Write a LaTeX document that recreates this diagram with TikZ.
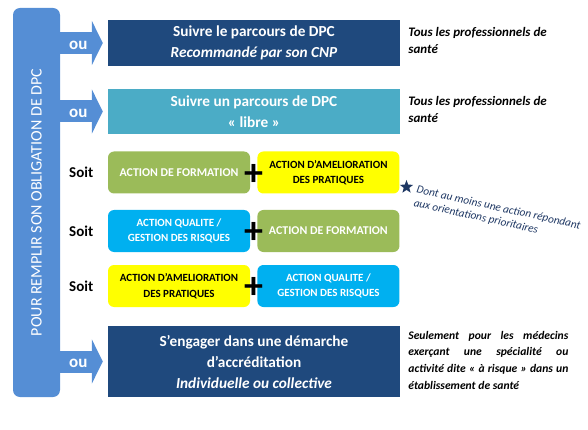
\documentclass[tikz,border=0pt]{standalone}
\usepackage{fontspec}
\setmainfont{Carlito}
\usetikzlibrary{arrows.meta, positioning, shapes.geometric, calc}
\definecolor{barblue}{HTML}{558ED5}
\definecolor{navybox}{HTML}{1F497D}
\definecolor{tealbox}{HTML}{4BACC6}
\definecolor{greenbox}{HTML}{9BBB59}
\definecolor{cyanbox}{HTML}{00B0F0}
\definecolor{yellowbox}{HTML}{FFFF00}
\definecolor{notenavy}{HTML}{1F3864}
\tikzset{
  bar/.style={
    rectangle,
    rounded corners=7pt,
    fill=barblue,
    text=white,
    minimum width=47pt,
    minimum height=389pt,
    inner sep=0pt,
    font=\fontsize{16}{16}\selectfont
  },
  pathbox/.style={
    rectangle,
    fill=#1,
    text=white,
    align=center,
    minimum width=292pt,
    inner sep=0pt,
    font=\fontsize{15.3}{21}\selectfont\bfseries
  },
  actionbox/.style={
    rectangle,
    rounded corners=6pt,
    fill=#1,
    align=center,
    minimum width=142pt,
    minimum height=42pt,
    inner sep=0pt,
    font=\fontsize{11}{15.5}\selectfont\bfseries
  },
  singleline/.style={font=\fontsize{11.9}{15.5}\selectfont\bfseries},
  fatarrow/.style={
    draw=barblue,
    line width=22pt,
    -{Triangle[length=11pt, width=44pt]},
    shorten >=5pt
  },
  oulabel/.style={text=white, yshift=-2pt, font=\fontsize{17}{17}\selectfont\bfseries},
  soitlabel/.style={font=\fontsize{15}{15}\selectfont\bfseries},
  plussign/.style={inner sep=0pt, yshift=-2pt, font=\fontsize{38}{38}\selectfont\bfseries},
  sidenote/.style={
    anchor=north west,
    align=left,
    inner sep=0pt,
    font=\fontsize{13}{17}\selectfont\bfseries\itshape
  },
  starmark/.style={
    star,
    star points=5,
    star point ratio=2.4,
    fill=notenavy,
    inner sep=0pt,
    minimum size=14pt
  },
  starnote/.style={
    anchor=north west,
    rotate=-12.5,
    align=left,
    inner sep=0pt,
    text=notenavy,
    font=\fontsize{11.3}{13.5}\selectfont\itshape
  }
}
\begin{document}
\begin{tikzpicture}[x=1pt, y=-1pt]
    \useasboundingbox (0,0) rectangle (588,430);

    \node[bar] (bar) at (36.5,202.5) {\rotatebox{90}{POUR REMPLIR SON OBLIGATION DE DPC}};

    % les trois parcours
    \node[pathbox=navybox, minimum height=46pt] (parcourscnp) at (254,43)
        {Suivre le parcours de DPC\\\textit{Recommandé par son CNP}};
    \node[pathbox=tealbox, minimum height=45pt] (parcourslibre) at (254,111.5)
        {Suivre un parcours de DPC\\«~libre~»};
    \node[pathbox=navybox, minimum height=71pt] (accreditation) at (254,361.5)
        {S’engager dans une démarche\\d’accréditation\\\textit{Individuelle ou collective}};

    % combinaisons d'actions
    \node[actionbox=greenbox, singleline, text=white] (formationA) at (179,172.5) {ACTION DE FORMATION};
    \node[actionbox=yellowbox, right=7pt of formationA] (ameliorationA) {ACTION D’AMELIORATION\\DES PRATIQUES};
    \node[actionbox=cyanbox, text=white] (qualiteB) at (179,231) {ACTION QUALITE /\\GESTION DES RISQUES};
    \node[actionbox=greenbox, singleline, text=white, right=7pt of qualiteB] (formationB) {ACTION DE FORMATION};
    \node[actionbox=yellowbox] (ameliorationC) at (179,286) {ACTION D’AMELIORATION\\DES PRATIQUES};
    \node[actionbox=cyanbox, text=white, right=7pt of ameliorationC] (qualiteC) {ACTION QUALITE /\\GESTION DES RISQUES};

    \node[soitlabel, left=11pt of formationA] (soitA) {Soit};
    \node[soitlabel, left=11pt of qualiteB] (soitB) {Soit};
    \node[soitlabel, left=11pt of ameliorationC] (soitC) {Soit};

    \node[plussign] (plusA) at ($(formationA.east)!.5!(ameliorationA.west)$) {+};
    \node[plussign] (plusB) at ($(qualiteB.east)!.5!(formationB.west)$) {+};
    \node[plussign] (plusC) at ($(ameliorationC.east)!.5!(qualiteC.west)$) {+};

    % notes
    \node[sidenote] (notecnp) at ([xshift=8pt, yshift=-7pt]parcourscnp.north east)
        {Tous les professionnels de\\santé};
    \node[sidenote] (notelibre) at ([xshift=8pt, yshift=-7pt]parcourslibre.north east)
        {Tous les professionnels de\\santé};
    \node[sidenote, text width=160pt, align=justify, font=\fontsize{11.6}{16.7}\selectfont\bfseries\itshape] (noteaccred)
        at ([xshift=8pt, yshift=-5pt]accreditation.north east)
        {Seulement pour les médecins\linebreak exerçant une spécialité ou\linebreak activité dite «~à risque~» dans un\linebreak établissement de santé};
    \node[starmark] (star) at (406.5,187) {};
    \node[starnote] (prioritynote) at ([xshift=7pt, yshift=2pt]star.east)
        {Dont au moins une action répondant\\aux orientations prioritaires};

    \draw[fatarrow] ([xshift=-6pt]bar.east |- parcourscnp.west) -- (parcourscnp.west) node[oulabel, pos=0.45] {ou};
    \draw[fatarrow] ([xshift=-6pt]bar.east |- parcourslibre.west) -- (parcourslibre.west) node[oulabel, pos=0.45] {ou};
    \draw[fatarrow] ([xshift=-6pt]bar.east |- accreditation.west) -- (accreditation.west) node[oulabel, pos=0.45] {ou};
\end{tikzpicture}
\end{document}
